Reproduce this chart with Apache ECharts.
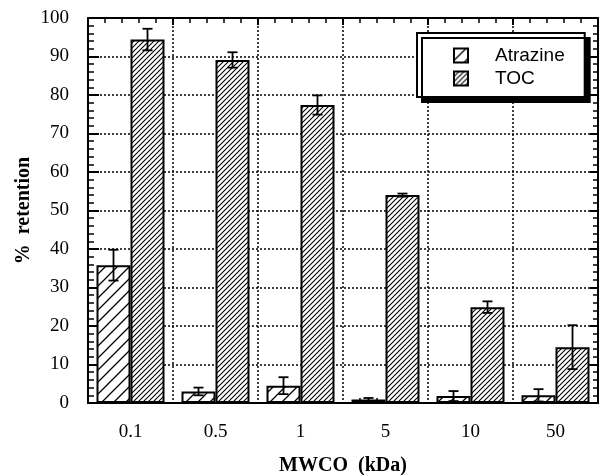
<!DOCTYPE html>
<html>
<head>
<meta charset="utf-8">
<script src="https://cdn.jsdelivr.net/npm/echarts@6/dist/echarts.min.js"></script>
<style>
  html, body { margin: 0; padding: 0; background: #fff; }
  #chart { width: 602px; height: 475px; }
</style>
</head>
<body>
<div id="chart"></div>
<script>
// MWCO categories (kDa) and % retention values
const categories = ['0.1', '0.5', '1', '5', '10', '50']
const atrazine = [35.8, 3.0, 4.5, 0.9, 1.8, 2.0]
const atrazineErr = [4.0, 1.0, 2.2, 0.4, 1.3, 1.6]
const toc = [94.4, 89.1, 77.4, 54.0, 24.9, 14.5]
const tocErr = [2.8, 2.0, 2.5, 0.4, 1.5, 5.7]

const GAP = 0.2 // barCategoryGap
const serif = 'Liberation Serif'

// diagonal hatch pattern, lines going "/"
const hatch = (size, width) => {
  const c = document.createElement('canvas')
  c.width = size
  c.height = size
  const ctx = c.getContext('2d')
  ctx.fillStyle = '#fff'
  ctx.fillRect(0, 0, size, size)
  ctx.strokeStyle = '#000'
  ctx.lineWidth = width
  ctx.beginPath()
  ctx.moveTo(-1, size + 1); ctx.lineTo(size + 1, -1)
  ctx.moveTo(-1, 1); ctx.lineTo(1, -1)
  ctx.moveTo(size - 1, size + 1); ctx.lineTo(size + 1, size - 1)
  ctx.stroke()
  return c
}

const sparse = { image: hatch(12, 1.3), repeat: 'repeat' }
const dense = { image: hatch(5, 1.1), repeat: 'repeat' }

const errorSeries = (vals, errs, side) => ({
  type: 'custom',
  xAxisIndex: 0,
  yAxisIndex: 0,
  z: 5,
  silent: true,
  encode: { x: 0, y: [1, 2] },
  data: vals.map((v, i) => [i, v - errs[i], v + errs[i]]),
  renderItem: (params, api) => {
    const band = api.size([1, 0])[0]
    const off = side * band * (1 - GAP) / 4
    const lo = api.coord([api.value(0), api.value(1)])
    const hi = api.coord([api.value(0), api.value(2)])
    const x = lo[0] + off
    const cap = 5
    const style = { stroke: '#000', lineWidth: 1.8 }
    return {
      type: 'group',
      children: [
        { type: 'line', shape: { x1: x, y1: lo[1], x2: x, y2: hi[1] }, style },
        { type: 'line', shape: { x1: x - cap, y1: hi[1], x2: x + cap, y2: hi[1] }, style },
        { type: 'line', shape: { x1: x - cap, y1: lo[1], x2: x + cap, y2: lo[1] }, style }
      ]
    }
  }
})

const black = { color: '#000', width: 2 }
const thin = { color: '#000', width: 1.5 }
const dotted = { color: '#000', width: 1.5, type: [2, 2] }

// the frame: every axis keeps its own side (onZero off), ticks point inwards
const chart = echarts.init(document.getElementById('chart'))
chart.setOption({
  animation: false,
  backgroundColor: '#fff',
  grid: { left: 88, right: 4, top: 18, bottom: 72, outerBoundsMode: 'none', containLabel: false },
  legend: {
    data: ['Atrazine', 'TOC'],
    orient: 'vertical',
    left: 417,
    top: 33,
    padding: [13, 20, 9, 36],
    icon: 'rect',
    itemWidth: 14,
    itemHeight: 14,
    itemGap: 4,
    backgroundColor: '#fff',
    borderColor: '#000',
    borderWidth: 2,
    borderRadius: 0,
    shadowColor: '#000',
    shadowBlur: 0,
    shadowOffsetX: 5,
    shadowOffsetY: 5,
    textStyle: { fontFamily: 'Liberation Sans', fontSize: 19, color: '#000', padding: [0, 0, 0, 22] }
  },
  xAxis: [
    {
      type: 'category',
      data: categories,
      position: 'bottom',
      name: 'MWCO  (kDa)',
      nameLocation: 'middle',
      nameGap: 53,
      nameMoveOverlap: false,
      nameTextStyle: { fontFamily: serif, fontWeight: 'bold', fontSize: 20, color: '#000' },
      axisLine: { onZero: false, lineStyle: black },
      axisTick: { inside: true, length: 11, interval: 0, lineStyle: black },
      axisLabel: { fontFamily: serif, fontSize: 19, color: '#000', margin: 20 },
      splitLine: { show: true, interval: 0, lineStyle: dotted }
    },
    {
      type: 'value',
      min: 0,
      max: 6,
      interval: 1,
      position: 'top',
      axisLine: { show: true, onZero: false, lineStyle: black },
      axisTick: { show: true, inside: true, length: 7, lineStyle: black },
      minorTick: { show: true, splitNumber: 5, length: 5, lineStyle: thin },
      axisLabel: { show: false },
      splitLine: { show: false }
    },
    {
      type: 'value',
      min: 0,
      max: 6,
      interval: 1,
      position: 'bottom',
      axisLine: { show: false, onZero: false },
      axisTick: { show: false, inside: true },
      minorTick: { show: true, splitNumber: 5, length: 5, lineStyle: thin },
      axisLabel: { show: false },
      splitLine: { show: false }
    }
  ],
  yAxis: [
    {
      type: 'value',
      min: 0,
      max: 100,
      interval: 10,
      position: 'left',
      name: '%  retention',
      nameLocation: 'middle',
      nameGap: 54,
      nameMoveOverlap: false,
      nameTextStyle: { fontFamily: serif, fontWeight: 'bold', fontSize: 20, color: '#000' },
      axisLine: { show: true, onZero: false, lineStyle: black },
      axisTick: { show: true, inside: true, length: 11, lineStyle: black },
      minorTick: { show: true, splitNumber: 5, length: 6, lineStyle: thin },
      axisLabel: { fontFamily: serif, fontSize: 19, color: '#000', margin: 19 },
      splitLine: { show: true, lineStyle: dotted }
    },
    {
      type: 'value',
      min: 0,
      max: 100,
      interval: 10,
      position: 'right',
      axisLine: { show: true, onZero: false, lineStyle: black },
      axisTick: { show: true, inside: true, length: 8, lineStyle: black },
      minorTick: { show: true, splitNumber: 5, length: 5, lineStyle: thin },
      axisLabel: { show: false },
      splitLine: { show: false }
    }
  ],
  series: [
    {
      name: 'Atrazine',
      type: 'bar',
      data: atrazine,
      barGap: '0%',
      barCategoryGap: (GAP * 100) + '%',
      itemStyle: { color: sparse, borderColor: '#000', borderWidth: 2 }
    },
    {
      name: 'TOC',
      type: 'bar',
      data: toc,
      barGap: '0%',
      barCategoryGap: (GAP * 100) + '%',
      itemStyle: { color: dense, borderColor: '#000', borderWidth: 2 }
    },
    errorSeries(atrazine, atrazineErr, -1),
    errorSeries(toc, tocErr, 1)
  ]
})
</script>
</body>
</html>
